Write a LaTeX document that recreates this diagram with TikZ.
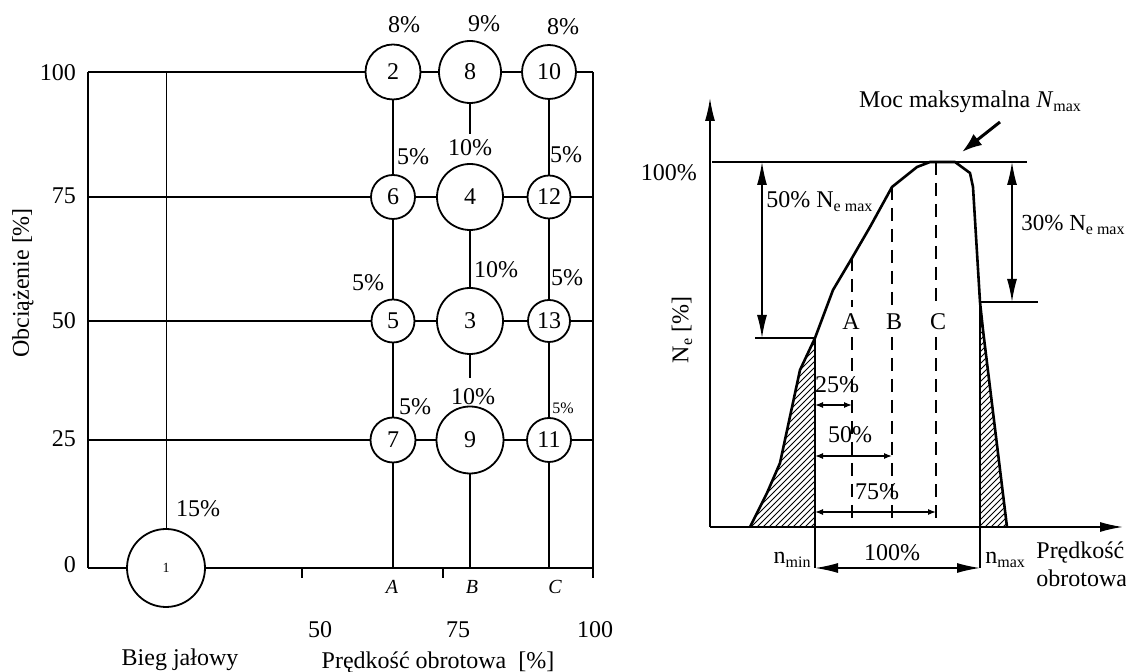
\documentclass[tikz,border=0pt]{standalone}
\usepackage{fontspec}
\setmainfont{Liberation Serif}
\usepackage{tikz}
\usetikzlibrary{arrows.meta,positioning,patterns}

\newcommand{\indx}[1]{\raisebox{-0.35ex}{\fontsize{8}{9}\selectfont #1}}

\tikzset{
  krag/.style={circle,draw,line width=0.9pt,inner sep=0pt},
  siatka/.style={line width=0.9pt},
  maly/.style={font=\fontsize{8}{9.6}\selectfont},
  wymiar/.style={line width=0.7pt,{Latex[length=11.5pt,width=5pt]}-{Latex[length=11.5pt,width=5pt]}},
  wymiarm/.style={line width=0.6pt,{Latex[length=4pt,width=3pt]}-{Latex[length=4pt,width=3pt]}},
  kreska/.style={line width=0.7pt,dash pattern=on 6.5pt off 4pt},
}

\begin{document}
\begin{tikzpicture}[x=0.5pt,y=-0.5pt,font=\fontsize{12}{14.2}\selectfont]
  \useasboundingbox (0,0) rectangle (1126,672);

  % left chart: frame corners
  \coordinate (g100) at (88,72);
  \coordinate (g75) at (88,197);
  \coordinate (g50) at (88,321);
  \coordinate (g25) at (88,440);
  \coordinate (g0) at (88,568);
  \coordinate (p100) at (593,72);
  \coordinate (p75) at (593,197);
  \coordinate (p50) at (593,321);
  \coordinate (p25) at (593,440);
  \coordinate (p0) at (593,568);
  \coordinate (pk) at (593,578);

  % test points
  \node[krag,minimum size=39pt,font=\fontsize{7}{8}\selectfont] (c1) at (166,568) {1};
  \node[krag,minimum size=27.5pt] (c2) at (393,72) {2};
  \node[krag,minimum size=31pt] (c8) at (470,72) {8};
  \node[krag,minimum size=27pt] (c10) at (549,72) {10};
  \node[krag,minimum size=22pt] (c6) at (393,197) {6};
  \node[krag,minimum size=33pt] (c4) at (470,197) {4};
  \node[krag,minimum size=21.5pt] (c12) at (549,197) {12};
  \node[krag,minimum size=21.5pt] (c5) at (393,321) {5};
  \node[krag,minimum size=33pt] (c3) at (470,321) {3};
  \node[krag,minimum size=21pt] (c13) at (549,321) {13};
  \node[krag,minimum size=22.5pt] (c7) at (393,440) {7};
  \node[krag,minimum size=33.5pt] (c9) at (470,440) {9};
  \node[krag,minimum size=22pt] (c11) at (549,440) {11};

  % rows
  \draw[siatka] (g100) -- (c2) -- (c8) -- (c10) -- (p100);
  \draw[siatka] (g75) -- (c6) -- (c4) -- (c12) -- (p75);
  \draw[siatka] (g50) -- (c5) -- (c3) -- (c13) -- (p50);
  \draw[siatka] (g25) -- (c7) -- (c9) -- (c11) -- (p25);
  \draw[siatka] (g0) -- (c1) -- (p0);
  \draw[siatka] (g100) -- (g0);
  \draw[siatka] (p100) -- (pk);

  % columns
  \draw[siatka] (c2) -- (c6) -- (c5) -- (c7) -- (c7 |- g0);
  \draw[siatka] (c8.south) -- ++(0,30);
  \draw[siatka] (c4) -- (c3);
  \draw[siatka] (c3.south) -- ++(0,23);
  \draw[siatka] (c9) -- (c9 |- g0);
  \draw[siatka] (c10) -- (c12) -- (c13) -- (c11) -- (c11 |- g0);
  \draw[line width=0.4pt] (c1 |- g100) -- (c1);
  \draw[siatka] (302,568) -- (302,578);
  \draw[siatka] (443,568) -- (443,578);

  % shares
  \node (s2) at (404,25) {8\%};
  \node (s8) at (484,24) {9\%};
  \node (s10) at (563,27) {8\%};
  \node (s6) at (413,157) {5\%};
  \node (s4) at (470,148) {10\%};
  \node (s12) at (566,155) {5\%};
  \node (s5) at (368,283) {5\%};
  \node (s3) at (496,270) {10\%};
  \node (s13) at (567,278) {5\%};
  \node (s7) at (415,407) {5\%};
  \node (s9) at (473,397) {10\%};
  \node[maly] (s11) at (563,408) {5\%};
  \node (s1) at (198,509) {15\%};

  % left axes labels
  \node[anchor=east] (y100) at (83,73) {100};
  \node[anchor=east] (y75) at (83,196) {75};
  \node[anchor=east] (y50) at (83,321) {50};
  \node[anchor=east] (y25) at (83,439) {25};
  \node[anchor=east] (y0) at (83,565) {0};
  \node[rotate=90] (ylab) at (23,283) {Obciążenie [\%]};
  \node[font=\fontsize{10}{12}\selectfont\itshape] (kA) at (392,587) {A};
  \node[font=\fontsize{10}{12}\selectfont\itshape] (kB) at (472,587) {B};
  \node[font=\fontsize{10}{12}\selectfont\itshape] (kC) at (555,587) {C};
  \node (x50) at (320,630) {50};
  \node (x75) at (458,630) {75};
  \node (x100) at (595,630) {100};
  \node (bieg) at (180,660) {Bieg jałowy};
  \node (xlab) at (438,663) {Prędkość obrotowa\ \ [\%]};

  % right chart
  \coordinate (o) at (710,527);
  \coordinate (yk) at (710,98);
  \coordinate (xk) at (1123,527);
  \coordinate (t0) at (712,162);
  \coordinate (t1) at (1027,162);
  \coordinate (pA) at (852,258);
  \coordinate (pB) at (892,187);
  \coordinate (pC) at (936,162);
  \coordinate (nmin) at (815,338);
  \coordinate (nmax) at (980,302);

  \fill[pattern=north east lines] (750,527) -- (767,493) -- (780,463) -- (800,370) -- (nmin) -- (nmin |- o) -- cycle;
  \fill[pattern=north east lines] (nmax) -- (983,330) -- (1007,527) -- (nmax |- o) -- cycle;

  \draw[line width=0.8pt,-{Latex[length=11.5pt,width=5pt]}] (o) -- (yk);
  \draw[line width=0.8pt,-{Latex[length=11.5pt,width=5pt]}] (o) -- (xk);
  \draw[line width=0.8pt] (t0) -- (t1);
  \draw[line width=1.3pt,line join=round] (750,527) -- (767,493) -- (780,463) -- (800,370) -- (nmin)
    -- (833,290) -- (pA) -- (870,227) -- (pB) -- (917,167) -- (930,162) -- (955,162)
    -- (970,173) -- (973,187) -- (nmax) -- (983,330) -- (1007,527);
  \draw[line width=0.8pt] (755,338) -- (nmin) -- (815,568);
  \draw[line width=0.8pt] (nmax) -- (1038,302);
  \draw[line width=0.8pt] (nmax) -- (980,568);

  \node[anchor=east] (r100) at (704,173) {100\%};
  \draw[wymiar] (762,162) -- (762,338);
  \node[anchor=west,inner sep=0pt] (d50) at (766,202) {50\% N\indx{e max}};
  \draw[wymiar] (1012,162) -- (1012,302);
  \node[anchor=west,inner sep=0pt,font=\fontsize{11.5}{13.8}\selectfont] (d30) at (1021,225) {30\% N\indx{e max}};

  \node (lA) at (851,322) {A};
  \node (lB) at (894,322) {B};
  \node (lC) at (938,322) {C};
  \draw[kreska] (pA) -- (pA |- lA.north);
  \draw[kreska] (pA |- lA.south) -- (pA |- o);
  \draw[kreska] (pB) -- (pB |- lB.north);
  \draw[kreska] (pB |- lB.south) -- (pB |- o);
  \draw[kreska] (pC) -- (pC |- lC.north);
  \draw[kreska] (pC |- lC.south) -- (pC |- o);

  \draw[wymiarm] (815,405) -- (852,405);
  \node (w25) at (837,385) {25\%};
  \draw[wymiarm] (815,456) -- (892,456);
  \node (w50) at (850,435) {50\%};
  \draw[wymiarm] (815,512) -- (936,512);
  \node (w75) at (877,492) {75\%};
  \draw[wymiar] (815,568) -- (980,568);
  \node (w100) at (892,553) {100\%};

  \node[anchor=east,inner sep=1pt] (lmin) at (813,560) {n\indx{min}};
  \node[anchor=west,inner sep=1pt] (lmax) at (983,560) {n\indx{max}};
  \node[anchor=west,align=left,inner sep=0pt] (xlab2) at (1036,564) {Prędkość\\obrotowa};
  \node[rotate=90] (ylab2) at (682,330) {N\indx{e} [\%]};

  \node (moc) at (970,102) {Moc maksymalna \textit{N}\indx{max}};
  \draw[line width=1.5pt,-{Latex[length=10pt,width=7pt]}] (1000,122) -- (962,152);
\end{tikzpicture}
\end{document}
